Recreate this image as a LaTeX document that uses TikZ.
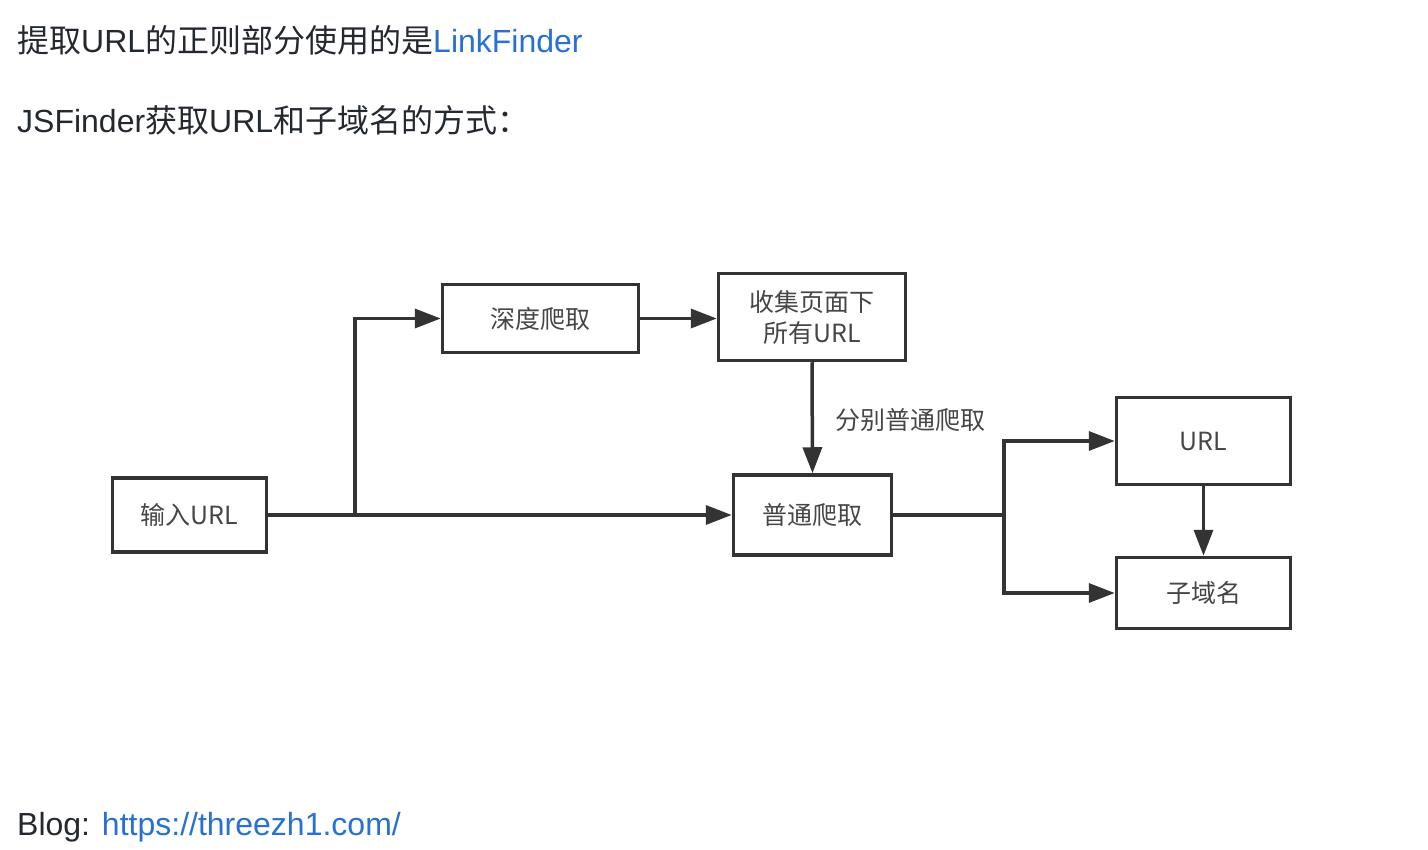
\documentclass[tikz,border=0pt]{standalone}
\usepackage{fontspec}
\setmainfont{Liberation Sans}
\newfontfamily\cjk{Noto Sans CJK SC}
\usetikzlibrary{arrows.meta}
\definecolor{linkblue}{RGB}{40,112,214}
\definecolor{inkgray}{RGB}{51,51,51}
\definecolor{textgray}{RGB}{36,41,47}
\definecolor{boxtext}{RGB}{70,70,70}

\begin{document}
\begin{tikzpicture}[x=1pt,y=-1pt,
    box/.style={draw=inkgray,line width=3.5pt,inner sep=0pt,text=boxtext,align=center,
                font=\cjk\fontsize{25}{31}\selectfont},
    flow/.style={draw=inkgray,line width=3.5pt,-{Triangle[length=26pt,width=19pt]}},
    body/.style={anchor=base west,inner sep=0pt,text=textgray,font=\fontsize{32}{38}\selectfont}]

        \useasboundingbox[fill=white] (0,0) rectangle (1428,850);

        % text above and below the chart
        \node[body] (title) at (17,53) {{\cjk 提取}URL{\cjk 的正则部分使用的是}\textcolor{linkblue}{LinkFinder}};
        \node[body] (intro) at (17,133) {JSFinder{\cjk 获取}URL{\cjk 和子域名的方式：}};
        \node[body] (blog) at (17,835) {Blog: \textcolor{linkblue}{https://threezh1.com/}};

        % boxes
        \node[box,minimum width=154pt,minimum height=74pt] (input) at (189.5,515) {输入URL};
        \node[box,minimum width=196pt,minimum height=68pt] (deep) at (540.5,318.5) {深度爬取};
        \node[box,minimum width=187pt,minimum height=87pt] (collect) at (812,317) {收集页面下\\所有URL};
        \node[box,minimum width=158pt,minimum height=80pt] (crawl) at (812.5,515) {普通爬取};
        \node[box,minimum width=174pt,minimum height=87pt] (url) at (1203.5,441) {URL};
        \node[box,minimum width=174pt,minimum height=71pt] (sub) at (1203.5,593) {子域名};

        \coordinate (fork1) at (355,515);
        \coordinate (fork2) at (1004,515);

        % connectors
        \draw[flow] (input.east) -- (fork1) |- (deep.west);
        \draw[flow] (input.east) -- (crawl.west);
        \draw[flow] (deep.east) -- (collect.west |- deep.east);
        \draw[flow] (collect.south) -- (crawl.north);
        \node[anchor=west,inner sep=0pt,text=boxtext,font=\cjk\fontsize{25}{31}\selectfont] (each) at (835,420) {分别普通爬取};
        \draw[flow] (crawl.east) -- (fork2) |- (url.west);
        \draw[flow] (fork2) |- (sub.west);
        \draw[flow] (url.south) -- (sub.north);
\end{tikzpicture}
\end{document}
